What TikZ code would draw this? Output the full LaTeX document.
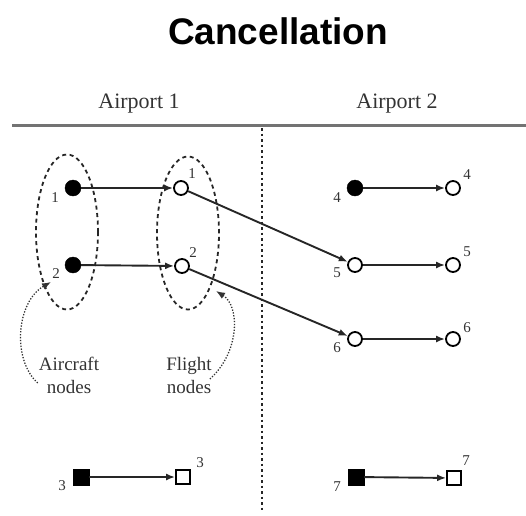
\documentclass[tikz,border=0pt]{standalone}
\usepackage{fontspec}
\setmainfont{Liberation Serif}
\newfontfamily\titlefont{Liberation Sans}
\usetikzlibrary{arrows.meta,shapes.geometric,calc}

\tikzset{
  acnode/.style={circle, fill=black, draw=black, minimum size=16pt, inner sep=0pt},
  flnode/.style={circle, draw=black, fill=white, line width=1.8pt, minimum size=14pt, inner sep=0pt},
  acsq/.style={rectangle, fill=black, draw=black, minimum size=16pt, inner sep=0pt},
  flsq/.style={rectangle, draw=black, fill=white, line width=1.8pt, minimum size=14pt, inner sep=0pt},
  conn/.style={-{Latex[length=9pt,width=7pt]}, line width=1.9pt, draw=black!85},
  num/.style={font=\fontsize{15}{15}\selectfont, inner sep=0pt, text=black!80},
  group/.style={draw=black!85, line width=1.8pt, dash pattern=on 4pt off 3.5pt},
  pointer/.style={draw=black!80, line width=1.3pt, dash pattern=on 1.3pt off 1.6pt, -{Latex[length=9pt,width=7pt]}},
  caption/.style={font=\fontsize{19}{23}\selectfont, align=center, inner sep=0pt, text=black!80},
  header/.style={font=\fontsize{22}{22}\selectfont, inner sep=0pt, text=black!80}
}

\begin{document}
\begin{tikzpicture}[x=1pt,y=-1pt]
\useasboundingbox (0,0) rectangle (526,515);

% title and airport headers
\node[font=\titlefont\bfseries\fontsize{37}{37}\selectfont, inner sep=0pt] (title) at (278,31) {Cancellation};
\node[header] (ap1) at (139,104) {Airport 1};
\node[header] (ap2) at (397,104) {Airport 2};

% separators
\coordinate (hl) at (12,125);
\coordinate (hr) at (526,125);
\draw[line width=3pt, draw=black!55] (hl) -- (hr);
\coordinate (vt) at (262,128);
\coordinate (vb) at (262,512);
\draw[line width=2pt, draw=black!85, dash pattern=on 2.5pt off 3pt] (vt) -- (vb);

% grouping ellipses
\node[group, ellipse, minimum width=62pt, minimum height=155pt, inner sep=0pt] (acgrp) at (67,232) {};
\node[group, ellipse, minimum width=62pt, minimum height=153pt, inner sep=0pt] (flgrp) at (188,233) {};

% airport 1 nodes
\node[acnode] (a1) at (73,188) {};
\node[acnode] (a2) at (73,265) {};
\node[flnode] (f1) at (181,188) {};
\node[flnode] (f2) at (182,266) {};

% airport 2 nodes
\node[acnode] (a4) at (355,188) {};
\node[flnode] (f4) at (453,188) {};
\node[flnode] (f5in) at (355,265) {};
\node[flnode] (f5) at (453,265) {};
\node[flnode] (f6in) at (355,339) {};
\node[flnode] (f6) at (453,339) {};

% square nodes
\node[acsq] (s3) at (81,477) {};
\node[flsq] (t3) at (183,477) {};
\node[acsq] (s7) at (356,477) {};
\node[flsq] (t7) at (454,478) {};

% numbers
\node[num] (la1) at (55,198) {1};
\node[num] (la2) at (56,274) {2};
\node[num] (lf1) at (192,174) {1};
\node[num] (lf2) at (193,253) {2};
\node[num] (la4) at (337,198) {4};
\node[num] (lf4) at (467,175) {4};
\node[num] (lf5in) at (337,273) {5};
\node[num] (lf5) at (467,252) {5};
\node[num] (lf6in) at (337,348) {6};
\node[num] (lf6) at (467,328) {6};
\node[num] (ls3) at (62,486) {3};
\node[num] (lt3) at (200,463) {3};
\node[num] (ls7) at (337,487) {7};
\node[num] (lt7) at (466,461) {7};

% connectors
\draw[conn] (a1) -- (f1);
\draw[conn] (a2) -- (f2);
\draw[conn] (f1) -- (f5in);
\draw[conn] (f2) -- (f6in);
\draw[conn] (a4) -- (f4);
\draw[conn] (f5in) -- (f5);
\draw[conn] (f6in) -- (f6);
\draw[conn] (s3) -- (t3);
\draw[conn] (s7) -- (t7);

% captions with pointers
\node[caption] (actxt) at (69,375) {Aircraft\\nodes};
\node[caption] (fltxt) at (189,375) {Flight\\nodes};
\coordinate (acpt) at (51,282);
\coordinate (flpt) at (216,291);
\draw[pointer] ($(actxt.west)+(-1,8)$) .. controls (12,360) and (16,302) .. (acpt);
\draw[pointer] ($(fltxt.east)+(-2,4)$) .. controls (240,352) and (240,306) .. (flpt);

\end{tikzpicture}
\end{document}
